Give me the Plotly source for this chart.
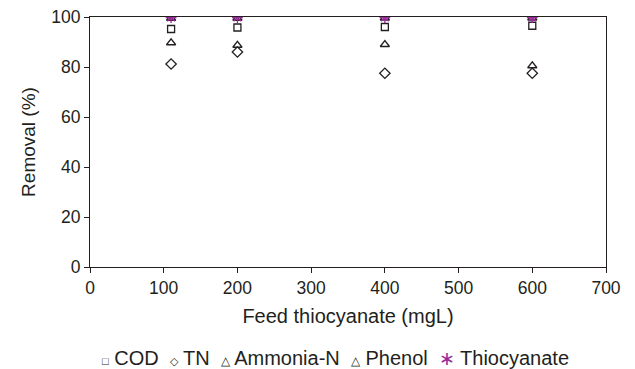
import plotly.graph_objects as go

feed = [110, 200, 400, 600]
cod = [95.2, 95.8, 96.0, 96.5]
tn = [81.2, 86.0, 77.5, 77.5]
ammonia = [89.7, 88.7, 89.0, 80.5]
phenol = [99.5, 99.5, 99.6, 99.6]
thiocyanate = [99.8, 99.8, 99.8, 99.8]

x_ticks = [0, 100, 200, 300, 400, 500, 600, 700]
y_ticks = [0, 20, 40, 60, 80, 100]

ink = "#231f20"
purple = "#9b2a9b"
FONT = "Liberation Sans, Arial, sans-serif"

series = [
    ("COD", cod, "square-open", ink, 7, "□", 11),
    ("TN", tn, "diamond-open", ink, 8, "◇", 11),
    ("Ammonia-N", ammonia, "triangle-up-open", ink, 8, "△", 12),
    ("Phenol", phenol, "triangle-up-open", ink, 8, "△", 12),
    ("Thiocyanate", thiocyanate, "asterisk-open", purple, 9, "∗", 19),
]

fig = go.Figure()
for name, vals, sym, col, sz, _, _ in series:
    fig.add_trace(go.Scatter(
        x=feed, y=vals, mode="markers", name=name, showlegend=False,
        marker=dict(symbol=sym, size=sz, color=col,
                    line=dict(color=col, width=1.3)),
    ))

axis_common = dict(
    showgrid=False, zeroline=False, showline=True, linecolor=ink, linewidth=1,
    mirror=True, ticks="outside", ticklen=5, tickcolor=ink, tickwidth=1,
    automargin=False,
    tickfont=dict(family=FONT, size=17.5, color=ink),
)
fig.update_xaxes(range=[0, 700], tickvals=x_ticks, **axis_common,
                 title=dict(text="Feed thiocyanate (mgL)",
                            font=dict(family=FONT, size=20, color=ink),
                            standoff=11))
fig.update_yaxes(range=[0, 100], tickvals=y_ticks, **axis_common,
                 title=dict(text="Removal (%)",
                            font=dict(family=FONT, size=19, color=ink),
                            standoff=10))

# compact text legend (symbols followed by series names)
parts = []
for name, _, _, col, _, glyph, gsize in series:
    parts.append(f"<span style='font-size:{gsize}px;color:{col}'>{glyph}</span> {name}")
legend_text = "&nbsp;&nbsp;".join(parts)
fig.add_annotation(
    x=0.475, y=-0.365, xref="paper", yref="paper", xanchor="center", yanchor="middle",
    text=legend_text, showarrow=False,
    font=dict(family=FONT, size=20, color=ink),
)

fig.update_layout(
    width=635, height=369,
    margin=dict(l=90, r=29, t=17, b=102, autoexpand=False),
    plot_bgcolor="white", paper_bgcolor="white",
    showlegend=False,
)

fig.write_html("out.html", config={"displayModeBar": False},
               post_script="document.body.style.margin='0';")
